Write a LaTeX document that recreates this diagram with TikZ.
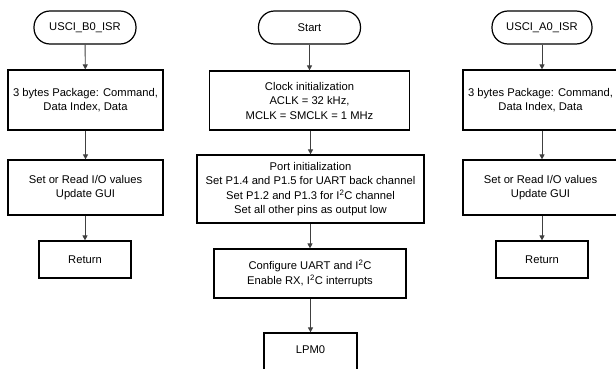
\documentclass[tikz,border=0pt]{standalone}
\usepackage{fontspec}
\setmainfont{Liberation Sans}
\usetikzlibrary{arrows.meta}
\begin{document}
\begin{tikzpicture}[x=1pt,y=-1pt,
  every node/.style={font=\fontsize{11.2}{14.5}\selectfont, align=center, inner sep=0pt},
  box/.style={draw=black, line width=1.2pt, rectangle},
  term/.style={draw=black, line width=1.2pt, rectangle, rounded corners=16pt, minimum height=33pt},
  arr/.style={draw=black!75, line width=0.9pt, -{Triangle[length=5pt,width=5pt]}}]
\clip (0,0) rectangle (616,369);
\fill[white] (0,0) rectangle (616,369);
% left column
\node[term, minimum width=102pt] (t1) at (85,27.5) {USCI\_B0\_ISR};
\node[box, minimum width=155pt, minimum height=60pt] (b1) at (85.5,100) {3 bytes Package: Command,\\Data Index, Data};
\node[box, minimum width=155pt, minimum height=55pt] (c1) at (85.5,187.5) {Set or Read I/O values\\Update GUI};
\node[box, minimum width=92pt, minimum height=37pt] (r1) at (85,259.5) {Return};
% middle column
\node[term, minimum width=102pt] (t2) at (309.5,27.5) {Start};
\node[box, minimum width=200pt, minimum height=59pt] (b2) at (309.5,100.5) {Clock initialization\\ACLK = 32 kHz,\\MCLK = SMCLK = 1 MHz};
\node[box, minimum width=227pt, minimum height=68pt] (p2) at (310.5,189) {Port initialization\\Set P1.4 and P1.5 for UART back channel\\Set P1.2 and P1.3 for I\textsuperscript{2}C channel\\Set all other pins as output low};
\node[box, minimum width=192pt, minimum height=49pt] (g2) at (310,273.5) {Configure UART and I\textsuperscript{2}C\\Enable RX, I\textsuperscript{2}C interrupts};
\node[box, minimum width=93pt, minimum height=50pt] (l2) at (310.5,358) {};
\node at (310.5,350) {LPM0};
% right column
\node[term, minimum width=100pt] (t3) at (542,27.5) {USCI\_A0\_ISR};
\node[box, minimum width=155pt, minimum height=60pt] (b3) at (540.5,100) {3 bytes Package: Command,\\Data Index, Data};
\node[box, minimum width=155pt, minimum height=55pt] (c3) at (540.5,187.5) {Set or Read I/O values\\Update GUI};
\node[box, minimum width=92pt, minimum height=37pt] (r3) at (542,259.5) {Return};
% arrows
\draw[arr] (t1) -- (b1);
\draw[arr] (b1) -- (c1);
\draw[arr] (c1.south -| r1.north) -- (r1.north);
\draw[arr] (t2) -- (b2);
\draw[arr] (b2.south -| p2.north) -- (p2.north);
\draw[arr] (p2.south -| g2.north) -- (g2.north);
\draw[arr] (g2.south -| l2.north) -- (l2.north);
\draw[arr] (t3.south) -- (t3.south |- b3.north);
\draw[arr] (b3.south -| t3.south) -- (t3.south |- c3.north);
\draw[arr] (c3.south -| r3.north) -- (r3.north);
\end{tikzpicture}
\end{document}
